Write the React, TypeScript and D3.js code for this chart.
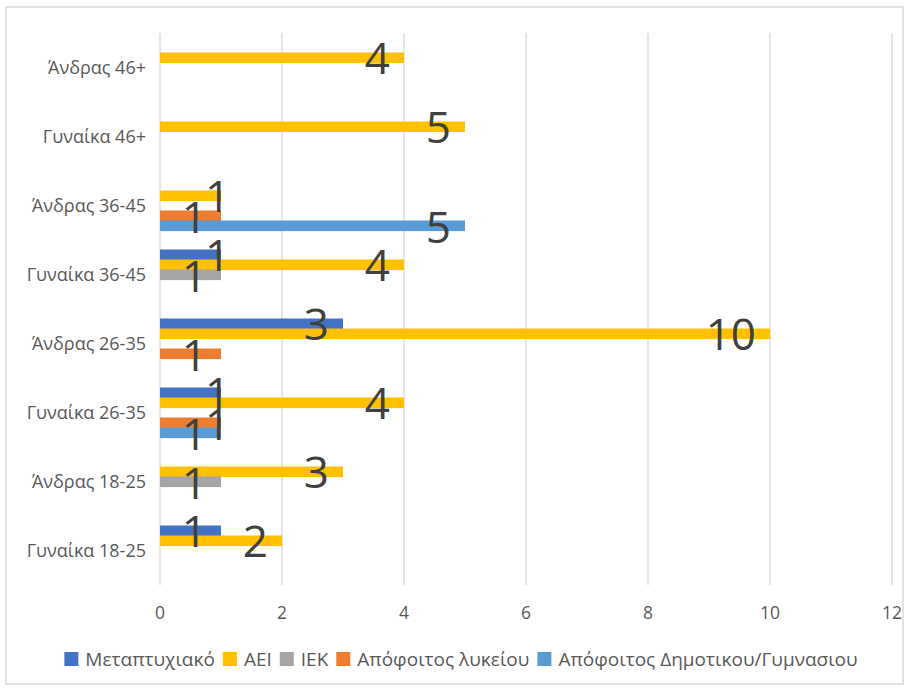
import React, { useEffect, useRef } from 'react';
import * as d3 from 'd3';

const categories = [
  'Γυναίκα 18-25',
  'Άνδρας 18-25',
  'Γυναίκα 26-35',
  'Άνδρας 26-35',
  'Γυναίκα 36-45',
  'Άνδρας 36-45',
  'Γυναίκα 46+',
  'Άνδρας 46+',
];

const seriesNames = [
  'Μεταπτυχιακό',
  'ΑΕΙ',
  'ΙΕΚ',
  'Απόφοιτος λυκείου',
  'Απόφοιτος Δημοτικου/Γυμνασιου',
];

// blank cells are null (no bar, no label)
const metaptyxiako = [1, null, 1, 3, 1, null, null, null];
const aei = [2, 3, 4, 10, 4, 1, 5, 4];
const iek = [null, 1, null, null, 1, null, null, null];
const lykeiou = [null, null, 1, 1, null, 1, null, null];
const dimotikou = [null, null, 1, null, null, 5, null, null];

const xTicks = [0, 2, 4, 6, 8, 10, 12];
const colors = ['#4472C4', '#FFC000', '#A5A5A5', '#ED7D31', '#5B9BD5'];

const seriesValues = [metaptyxiako, aei, iek, lykeiou, dimotikou];

const W = 906;
const H = 688;
const FONT = '"Open Sans", Lato, sans-serif';

const App: React.FC = () => {
  const svgRef = useRef<SVGSVGElement>(null);

  useEffect(() => {
    if (!svgRef.current) return;
    const svg = d3.select(svgRef.current);
    svg.selectAll('*').remove();

    const left = 160, right = 892, top = 33, bottom = 585;

    // chart border
    svg.append('rect')
      .attr('x', 6).attr('y', 7)
      .attr('width', 897).attr('height', 677)
      .attr('fill', '#fff')
      .attr('stroke', '#d9d9d9')
      .attr('stroke-width', 1.5);

    const x = d3.scaleLinear().domain([0, 12]).range([left, right]);
    const y = d3.scaleBand<string>()
      .domain(categories)
      .range([bottom, top])
      .paddingInner(0.275)
      .paddingOuter(0.1375);
    const y1 = d3.scaleBand<string>()
      .domain(seriesNames)
      .range([0, y.bandwidth()]);

    // gridlines
    svg.append('g')
      .selectAll('line')
      .data(xTicks)
      .join('line')
      .attr('x1', d => x(d)).attr('x2', d => x(d))
      .attr('y1', top).attr('y2', bottom)
      .attr('stroke', '#d9d9d9')
      .attr('stroke-width', 1.3);

    // tick labels
    svg.append('g')
      .selectAll('text')
      .data(xTicks)
      .join('text')
      .attr('x', d => x(d))
      .attr('y', 619)
      .attr('text-anchor', 'middle')
      .style('font-family', FONT)
      .style('font-size', '17.5px')
      .style('fill', '#595959')
      .text(d => d);

    // category labels
    svg.append('g')
      .selectAll('text')
      .data(categories)
      .join('text')
      .attr('x', 146)
      .attr('y', d => (y(d) || 0) + y.bandwidth() / 2 + 6)
      .attr('text-anchor', 'end')
      .style('font-family', FONT)
      .style('font-size', '18px')
      .style('fill', '#595959')
      .text(d => d);

    // bars
    seriesNames.forEach((s, si) => {
      const vals = seriesValues[si];
      svg.append('g')
        .selectAll('rect')
        .data(categories.map((c, ci) => ({ c, v: vals[ci] })).filter(d => d.v != null))
        .join('rect')
        .attr('x', x(0))
        .attr('y', d => (y(d.c) || 0) + (y1(s) || 0))
        .attr('width', d => x(d.v as number) - x(0))
        .attr('height', y1.bandwidth() + 0.6)
        .attr('fill', colors[si]);
    });

    // data labels, inside end, nudged right once when they collide
    const labelG = svg.append('g');
    const placed: { x0: number; x1: number; y0: number; y1: number }[] = [];
    for (let si = seriesNames.length - 1; si >= 0; si--) {
      const vals = seriesValues[si];
      categories.forEach((c, ci) => {
        const v = vals[ci];
        if (v == null) return;
        const cy = (y(c) || 0) + (y1(seriesNames[si]) || 0) + y1.bandwidth() / 2;
        const t = labelG.append('text')
          .attr('text-anchor', 'start')
          .style('font-family', FONT)
          .style('font-size', '44px')
          .style('fill', '#404040')
          .text(v);
        const w = (t.node() as SVGTextElement).getComputedTextLength();
        let x0 = x(v) - 14 - w;
        const box = () => ({ x0: x0 + 3, x1: x0 + w - 3, y0: cy - 21, y1: cy + 21 });
        const b = box();
        const hit = placed.find(p => b.x0 < p.x1 && p.x0 < b.x1 && b.y0 < p.y1 && p.y0 < b.y1);
        if (hit) x0 = hit.x1 + 1;
        placed.push(box());
        t.attr('x', x0).attr('y', cy + 17);
      });
    }

    // legend
    const legend = svg.append('g');
    let lx = 0;
    const items: { g: any; w: number }[] = [];
    seriesNames.forEach((s, si) => {
      const g = legend.append('g');
      g.append('rect')
        .attr('x', 0).attr('y', -7)
        .attr('width', 14).attr('height', 14)
        .attr('fill', colors[si]);
      const t = g.append('text')
        .attr('x', 21).attr('y', 7)
        .style('font-family', FONT)
        .style('font-size', '19px')
        .style('fill', '#595959')
        .text(s);
      const tw = (t.node() as SVGTextElement).getComputedTextLength();
      items.push({ g, w: 21 + tw });
    });
    const gap = 8;
    const total = items.reduce((a, b) => a + b.w, 0) + gap * (items.length - 1);
    lx = 461 - total / 2;
    items.forEach(it => {
      it.g.attr('transform', `translate(${lx}, 659)`);
      lx += it.w + gap;
    });
  }, []);

  return (
    <svg
      ref={svgRef}
      width={W}
      height={H}
      style={{ position: 'absolute', left: 0, top: 0, background: '#fff' }}
    />
  );
};

export default App;
